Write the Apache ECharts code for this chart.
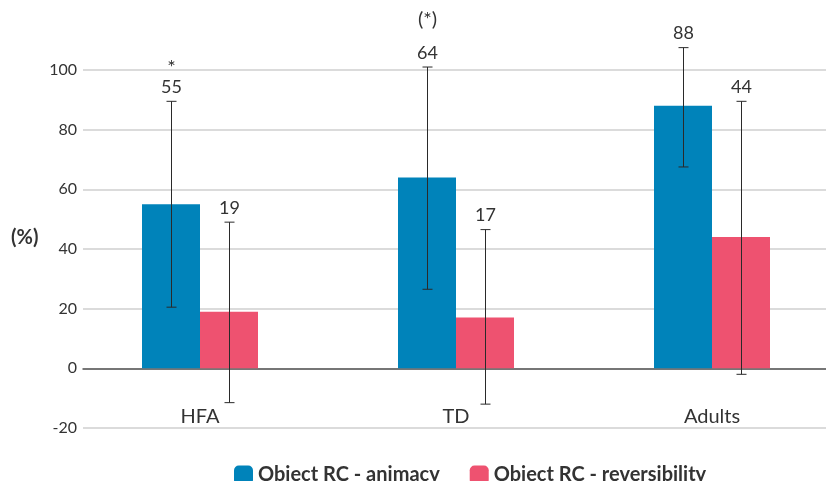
<!DOCTYPE html>
<html>
<head>
<meta charset="utf-8">
<script src="https://cdn.jsdelivr.net/npm/echarts@6/dist/echarts.min.js"></script>
<style>
  html, body { margin: 0; padding: 0; background: #fff; }
  #chart { width: 826px; height: 481px; }
</style>
</head>
<body>
<div id="chart"></div>
<script>
  const categories = ['HFA', 'TD', 'Adults']
  const animacy = [55, 64, 88]
  const reversibility = [19, 17, 44]
  const animacyLow = [20.5, 26.5, 67.5]
  const animacyHigh = [89.5, 101, 107.5]
  const reversibilityLow = [-11.5, -12, -2]
  const reversibilityHigh = [49, 46.5, 89.5]
  const notes = ['*', '(*)', '']
  const yTicks = [-20, 0, 20, 40, 60, 80, 100]

  const FONT = 'Lato, "Noto Sans", sans-serif'
  const BAR_W = 58

  // error bar + value label, drawn on top of the bars
  function errorSeries (name, low, high, values, shift, withNotes) {
    return {
      name: name + ' err',
      type: 'custom',
      xAxisIndex: 1,
      yAxisIndex: 1,
      clip: false,
      z: 5,
      data: categories.map((c, i) => [i, low[i], high[i], values[i]]),
      renderItem: function (params, api) {
        const i = api.value(0)
        const top = api.coord([i, api.value(2)])
        const bot = api.coord([i, api.value(1)])
        const x = Math.round(top[0] + shift) + 0.5
        const cap = 5
        const ls = { stroke: '#2a2a2a', lineWidth: 1 }
        const kids = [
          { type: 'line', shape: { x1: x, y1: top[1], x2: x, y2: bot[1] }, style: ls },
          { type: 'line', shape: { x1: x - cap, y1: top[1], x2: x + cap, y2: top[1] }, style: ls },
          { type: 'line', shape: { x1: x - cap, y1: bot[1], x2: x + cap, y2: bot[1] }, style: ls },
          { type: 'text', style: { text: String(api.value(3)), x: x, y: top[1] - 14, align: 'center', verticalAlign: 'middle', fill: '#333', font: '18px ' + FONT } }
        ]
        const note = withNotes ? notes[i] : ''
        if (note) {
          // a lone asterisk sits high in its line box, so it goes a little lower
          const dy = note === '*' ? -34 : -47
          kids.push({ type: 'text', style: { text: note, x: x, y: top[1] + dy, align: 'center', verticalAlign: 'middle', fill: '#333', font: '20px ' + FONT } })
        }
        return { type: 'group', children: kids }
      }
    }
  }

  const chart = echarts.init(document.getElementById('chart'))
  chart.setOption({
    animation: false,
    textStyle: { fontFamily: FONT },
    graphic: [
      { type: 'text', left: 11, top: 228, style: { text: '(%)', font: 'bold 20px ' + FONT, fill: '#333' } }
    ],
    legend: {
      data: ['Object RC - animacy', 'Object RC - reversibility'],
      left: 229,
      top: 460,
      icon: 'roundRect',
      itemWidth: 19,
      itemHeight: 19,
      itemGap: 30,
      textStyle: { fontSize: 20, fontWeight: 'bold', color: '#333', fontFamily: FONT }
    },
    grid: [
      { left: 83, right: 0, top: 70, bottom: 53 },
      // bar band is a bit wider than the canvas, so let it run past the right edge
      { left: 72, width: 768, top: 70, bottom: 53, outerBoundsMode: 'none' }
    ],
    xAxis: [
      {
        type: 'value', gridIndex: 0, min: 0, max: 1,
        axisLine: { show: true, lineStyle: { color: '#555', width: 1.5 } },
        axisTick: { show: false }, axisLabel: { show: false }, splitLine: { show: false }
      },
      {
        type: 'category', gridIndex: 1, data: categories,
        axisLine: { show: false }, axisTick: { show: false },
        axisLabel: { margin: -21, fontSize: 20, color: '#333', fontFamily: FONT }
      }
    ],
    yAxis: [
      {
        type: 'value', gridIndex: 0, min: yTicks[0], max: yTicks[yTicks.length - 1], interval: 20,
        axisLine: { show: false }, axisTick: { show: false },
        axisLabel: { margin: 6, fontSize: 16, color: '#333', fontFamily: FONT },
        splitLine: { lineStyle: { color: '#cfcfcf', width: 1.5 } }
      },
      {
        type: 'value', gridIndex: 1, min: yTicks[0], max: yTicks[yTicks.length - 1], interval: 20,
        show: false
      }
    ],
    series: [
      {
        name: 'Object RC - animacy', type: 'bar', xAxisIndex: 1, yAxisIndex: 1,
        barWidth: BAR_W, barGap: '0%', itemStyle: { color: '#0083ba' },
        data: animacy
      },
      {
        name: 'Object RC - reversibility', type: 'bar', xAxisIndex: 1, yAxisIndex: 1,
        barWidth: BAR_W, barGap: '0%', itemStyle: { color: '#ee5270' },
        data: reversibility
      },
      errorSeries('Object RC - animacy', animacyLow, animacyHigh, animacy, -BAR_W / 2, true),
      errorSeries('Object RC - reversibility', reversibilityLow, reversibilityHigh, reversibility, BAR_W / 2, false)
    ]
  })
</script>
</body>
</html>
